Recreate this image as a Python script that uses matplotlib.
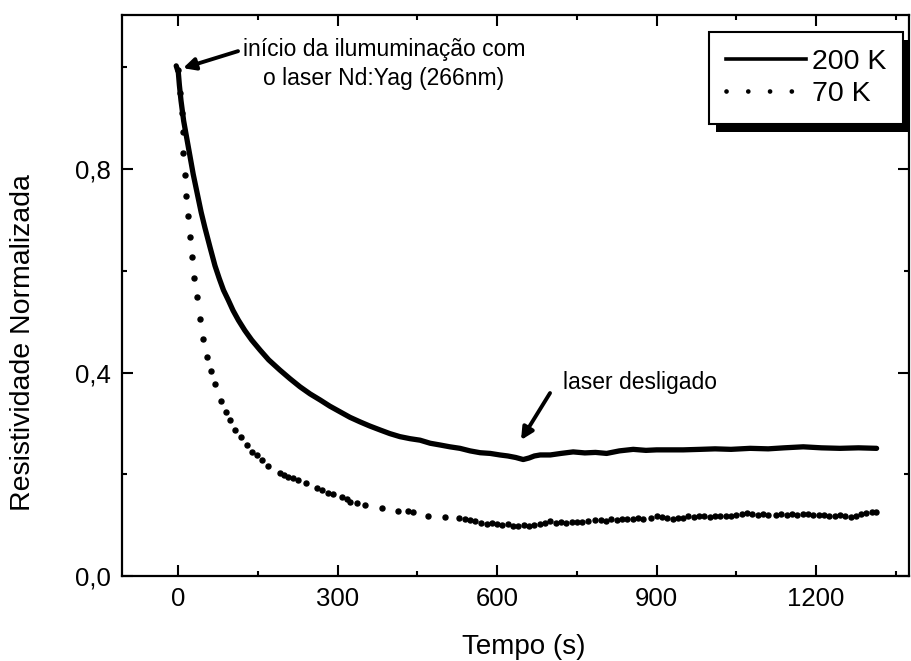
import matplotlib
matplotlib.use("Agg")
import matplotlib.pyplot as plt
from matplotlib.lines import Line2D
from matplotlib.patches import Rectangle
from matplotlib.transforms import IdentityTransform
from matplotlib.ticker import MultipleLocator, FuncFormatter

plt.rcParams['font.family'] = ['Liberation Sans', 'DejaVu Sans']

# ---- data ----
t200 = [-4, 0, 2, 5, 10, 16, 22, 28, 36, 43, 50, 60, 69, 77, 85, 94, 103, 113, 125,
        138, 154, 170, 191, 210, 229, 248, 267, 285, 304, 323, 342, 360, 380, 398,
        417, 436, 455, 474, 493, 511, 530, 549, 568, 587, 605, 620, 635, 649, 660,
        670, 681, 700, 720, 743, 765, 785, 806, 830, 856, 880, 900, 919, 950, 982,
        1010, 1040, 1076, 1110, 1140, 1176, 1210, 1245, 1280, 1314]
v200 = [1.003, 0.99, 0.965, 0.935, 0.895, 0.860, 0.825, 0.790, 0.750, 0.715, 0.685,
        0.645, 0.610, 0.585, 0.562, 0.5425, 0.522, 0.503, 0.483, 0.464, 0.444, 0.425,
        0.405, 0.388, 0.372, 0.358, 0.346, 0.334, 0.323, 0.312, 0.303, 0.295, 0.287,
        0.280, 0.274, 0.270, 0.267, 0.261, 0.2575, 0.254, 0.251, 0.246, 0.2424,
        0.241, 0.238, 0.236, 0.233, 0.229, 0.232, 0.236, 0.238, 0.238, 0.241, 0.244,
        0.242, 0.243, 0.241, 0.246, 0.249, 0.247, 0.248, 0.248, 0.248, 0.249, 0.250,
        0.249, 0.251, 0.250, 0.252, 0.254, 0.252, 0.251, 0.252, 0.251]

t70 = [0, 3, 6, 8.3, 9, 12.6, 15, 18, 21.4, 25.8, 30, 35.7, 40.8, 47, 54.6, 61, 69,
       79.8, 89.2, 97.3, 106.7, 117.4, 128.7, 138, 147.5, 157, 169.4, 191.4, 198.9,
       207, 216.5, 225.9, 240.3, 260.4, 269.8, 282.4, 290.5, 307.4, 316.8, 323.1,
       335.7, 351.3, 382.7, 414, 432.9, 442.3, 470.5, 501.9, 528.9, 539.6, 549,
       558.4, 570, 580, 590, 600, 610, 620, 630, 640, 650, 660, 670, 680, 690, 700,
       710, 720, 730, 740, 750, 760, 770, 785, 795, 805, 815, 825, 835, 845, 855,
       865, 875, 890, 900, 910, 920, 930, 940, 950, 960, 970, 980, 990, 1000, 1010,
       1020, 1030, 1040, 1050, 1060, 1070, 1080, 1090, 1100, 1110, 1125, 1135,
       1145, 1155, 1165, 1175, 1185, 1195, 1205, 1215, 1225, 1235, 1245, 1255,
       1265, 1275, 1285, 1295, 1305, 1312]
v70 = [0.995, 0.95, 0.91, 0.873, 0.831, 0.788, 0.747, 0.708, 0.667, 0.628, 0.586,
       0.548, 0.505, 0.465, 0.430, 0.404, 0.377, 0.345, 0.323, 0.307, 0.287, 0.273,
       0.2575, 0.244, 0.238, 0.228, 0.216, 0.2018, 0.1985, 0.1952, 0.1920, 0.1887,
       0.1821, 0.1723, 0.1690, 0.1625, 0.1605, 0.1559, 0.1507, 0.1461, 0.1441,
       0.1396, 0.1330, 0.1284, 0.1284, 0.1264, 0.1185, 0.1153, 0.1133, 0.1113,
       0.1100, 0.1081, 0.104, 0.103, 0.104, 0.102, 0.101, 0.102, 0.099, 0.099,
       0.100, 0.099, 0.101, 0.103, 0.104, 0.108, 0.105, 0.106, 0.105, 0.106, 0.106,
       0.107, 0.108, 0.111, 0.111, 0.108, 0.112, 0.111, 0.113, 0.112, 0.113, 0.114,
       0.113, 0.114, 0.117, 0.116, 0.114, 0.113, 0.114, 0.115, 0.118, 0.116, 0.117,
       0.118, 0.116, 0.117, 0.118, 0.117, 0.117, 0.119, 0.121, 0.123, 0.122, 0.120,
       0.121, 0.120, 0.119, 0.121, 0.120, 0.122, 0.120, 0.121, 0.121, 0.119, 0.120,
       0.119, 0.118, 0.118, 0.119, 0.117, 0.116, 0.118, 0.121, 0.124, 0.126, 0.125]

labels = ['200 K', '70 K']
xlabel = 'Tempo (s)'
ylabel = 'Resistividade Normalizada'

# ---- figure ----
W, H = 911, 661
fig = plt.figure(figsize=(W / 100, H / 100), dpi=100)
L, R, T, B = 122, 909, 15, 576
ax = fig.add_axes([L / W, (H - B) / H, (R - L) / W, (B - T) / H])

ax.plot(t200, v200, color='black', lw=3.8, solid_joinstyle='round',
        solid_capstyle='round')
ax.plot(t70, v70, ls='none', marker='o', ms=3.6, mfc='black', mec='black')

ax.set_xlim(-106, 1375)
ax.set_ylim(0, 1.103)

ax.xaxis.set_major_locator(MultipleLocator(300))
ax.xaxis.set_minor_locator(MultipleLocator(150))
ax.yaxis.set_major_locator(MultipleLocator(0.4))
ax.yaxis.set_minor_locator(MultipleLocator(0.2))
ax.yaxis.set_major_formatter(FuncFormatter(lambda v, p: f"{v:.1f}".replace('.', ',')))

ax.tick_params(which='both', direction='in', top=True, right=True, width=1.5,
               labelsize=18.5, pad=8, colors='black')
ax.tick_params(which='major', length=8)
ax.tick_params(which='minor', length=3.5)
for s in ax.spines.values():
    s.set_linewidth(1.6)

ax.set_xlabel(xlabel, fontsize=20)
ax.set_ylabel(ylabel, fontsize=20.5)
ax.xaxis.set_label_coords((524 - L) / (R - L), (B - 647) / (B - T))
ax.xaxis.label.set_va('center')
ax.yaxis.set_label_coords((22.7 - L) / (R - L), (B - 343) / (B - T))
ax.yaxis.label.set_va('center')

def px2data(x, y):
    return ((x - 178.3) / 0.5314, (B - y) / 508.75)

# annotation 1
ax.annotate('', xy=px2data(183, 68), xytext=px2data(238, 51),
            arrowprops=dict(arrowstyle='-|>', color='black', lw=2.8,
                            mutation_scale=18, shrinkA=0, shrinkB=0))
tx, ty = px2data(384, 64)
ax.text(tx, ty, 'início da ilumuminação com\no laser Nd:Yag (266nm)', fontsize=16.5,
        ha='center', va='center', multialignment='center', linespacing=1.35)

# annotation 2
ax.annotate('', xy=px2data(521, 440), xytext=px2data(550, 393),
            arrowprops=dict(arrowstyle='-|>', color='black', lw=2.8,
                            mutation_scale=18, shrinkA=0, shrinkB=0))
tx, ty = px2data(563, 382)
ax.text(tx, ty, 'laser desligado', fontsize=16.5, ha='left', va='center')

# legend
h1 = Line2D([], [], color='black', lw=2.6)
h2 = Line2D([], [], color='black', lw=3.4, ls=(0, (0.01, 4.6)), dash_capstyle='round')
leg = ax.legend([h1, h2], labels, loc='upper right',
                bbox_to_anchor=((903 - L) / (R - L), (B - 32) / (B - T)),
                borderaxespad=0, fontsize=20.5, handlelength=2.8, handletextpad=0.2,
                labelspacing=0.22, borderpad=0.6, fancybox=False, framealpha=1,
                edgecolor='black')
leg.get_frame().set_linewidth(1.5)

fig.canvas.draw()
bb = leg.get_window_extent()
shadow = Rectangle((bb.x0 + 7, bb.y0 - 8), bb.width, bb.height, transform=IdentityTransform(),
                   facecolor='black', edgecolor='none', zorder=4.5, clip_on=False)
ax.add_artist(shadow)

fig.savefig('out.png', dpi=100)
